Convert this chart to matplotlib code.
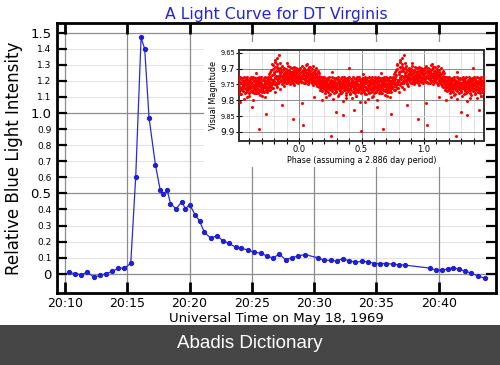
import matplotlib
matplotlib.use("Agg")
import matplotlib.pyplot as plt
from matplotlib.patches import Rectangle
from matplotlib.ticker import FixedLocator, FixedFormatter, MultipleLocator, NullFormatter
import numpy as np

# ---------------- main light curve (minutes after 20:00 UT) ----------------
times = [10.32, 10.80, 11.29, 11.80, 12.30, 12.79, 13.30, 13.78, 14.29, 14.77,
         15.28, 15.68, 16.11, 16.40, 16.75, 17.26, 17.64, 17.90, 18.20, 18.47,
         18.92, 19.38, 19.67, 20.00, 20.45, 20.80, 21.20, 21.70, 22.19, 22.67,
         23.16, 23.69, 24.17, 24.68, 25.14, 25.73, 26.21, 26.72, 27.20, 27.71,
         28.22, 28.70, 29.24, 30.28, 30.77, 31.33, 31.81, 32.29, 32.83, 33.31,
         33.82, 34.33, 34.84, 35.32, 35.80, 36.31, 36.80, 37.30, 39.34, 39.82,
         40.28, 40.73, 41.17, 41.65, 42.13, 42.61, 43.12, 43.74]
intensity = [0.010, 0.000, -0.005, 0.010, -0.020, -0.010, 0.000, 0.015, 0.035, 0.035,
             0.065, 0.605, 1.470, 1.398, 0.969, 0.678, 0.523, 0.494, 0.521, 0.437,
             0.404, 0.448, 0.404, 0.431, 0.367, 0.328, 0.257, 0.222, 0.236, 0.207,
             0.189, 0.166, 0.160, 0.147, 0.135, 0.129, 0.110, 0.098, 0.124, 0.087,
             0.101, 0.110, 0.120, 0.100, 0.085, 0.083, 0.081, 0.093, 0.081, 0.073,
             0.077, 0.075, 0.064, 0.064, 0.064, 0.060, 0.056, 0.054, 0.035, 0.021,
             0.025, 0.029, 0.039, 0.027, 0.017, 0.004, -0.012, -0.029]

x_ticks = [10, 15, 20, 25, 30, 35, 40]
x_tick_labels = ["20:10", "20:15", "20:20", "20:25", "20:30", "20:35", "20:40"]
y_major = [0.0, 0.5, 1.0, 1.5]
y_major_labels = ["0", "0.5", "1.0", "1.5"]
y_minor = [0.1, 0.2, 0.3, 0.4, 0.6, 0.7, 0.8, 0.9, 1.1, 1.2, 1.3, 1.4]
y_minor_labels = ["0.1", "0.2", "0.3", "0.4", "0.6", "0.7", "0.8", "0.9",
                  "1.1", "1.2", "1.3", "1.4"]

# ---------------- inset: phase-folded magnitudes (one cycle) ----------------
phase = [
 0.003, 0.007, 0.011, 0.014, 0.018, 0.022, 0.025, 0.029, 0.033, 0.036,
 0.040, 0.044, 0.047, 0.051, 0.055, 0.058, 0.062, 0.066, 0.069, 0.073,
 0.077, 0.080, 0.084, 0.088, 0.091, 0.095, 0.099, 0.102, 0.106, 0.110,
 0.113, 0.117, 0.121, 0.124, 0.128, 0.132, 0.135, 0.139, 0.143, 0.147,
 0.151, 0.155, 0.158, 0.162, 0.166, 0.169, 0.173, 0.177, 0.180, 0.184,
 0.188, 0.191, 0.195, 0.199,
 0.202, 0.206, 0.209, 0.213, 0.217, 0.220, 0.224, 0.228, 0.231, 0.235,
 0.239, 0.242, 0.246, 0.250, 0.253, 0.257, 0.261, 0.264, 0.268, 0.272,
 0.275, 0.279, 0.283, 0.286, 0.290, 0.294, 0.297, 0.301, 0.305, 0.308,
 0.312, 0.316, 0.319, 0.323, 0.327, 0.330, 0.334, 0.338, 0.341, 0.345,
 0.349, 0.352, 0.356, 0.360, 0.363, 0.367, 0.371, 0.374, 0.378, 0.382,
 0.385, 0.389, 0.393, 0.396, 0.400, 0.404, 0.407, 0.411, 0.415, 0.418,
 0.422, 0.426, 0.429, 0.433, 0.437, 0.440, 0.444, 0.448, 0.451, 0.455,
 0.459, 0.462, 0.466, 0.470, 0.473, 0.477, 0.481, 0.484, 0.488, 0.492,
 0.495, 0.499, 0.503, 0.506, 0.510, 0.514, 0.517, 0.521, 0.525, 0.528,
 0.532, 0.536, 0.539, 0.543, 0.547, 0.550, 0.554, 0.558, 0.561, 0.565,
 0.569, 0.572, 0.576, 0.580, 0.583, 0.587, 0.591, 0.594, 0.598, 0.602,
 0.605, 0.609, 0.613, 0.616, 0.620, 0.624, 0.627, 0.631, 0.635, 0.638,
 0.642, 0.646, 0.649, 0.653, 0.657, 0.660, 0.664, 0.668, 0.671, 0.675,
 0.679, 0.682, 0.686, 0.690, 0.693, 0.697, 0.701, 0.704, 0.708, 0.712,
 0.715, 0.719, 0.723, 0.726, 0.730, 0.734, 0.737, 0.741, 0.745, 0.748,
 0.752, 0.755, 0.759, 0.763, 0.766, 0.770, 0.774, 0.777, 0.781, 0.785,
 0.788, 0.792, 0.796, 0.799, 0.803, 0.807, 0.810, 0.814, 0.818, 0.821,
 0.825, 0.829, 0.832, 0.836, 0.840, 0.843, 0.847, 0.851, 0.854, 0.858,
 0.862, 0.865, 0.869, 0.873, 0.876, 0.880, 0.884, 0.887, 0.891, 0.895,
 0.898, 0.902, 0.906, 0.909, 0.913, 0.917, 0.920, 0.924, 0.928, 0.931,
 0.935, 0.939, 0.942, 0.946, 0.950, 0.953, 0.957, 0.961, 0.964, 0.968,
 0.972, 0.975, 0.979, 0.983, 0.986, 0.990, 0.993, 0.997,
 # outliers
 0.840, 0.822, 0.806, 0.849, 0.781, 0.675, 0.733, 0.861, 0.950, 0.027,
 0.020, 0.256, 0.299, 0.349, 0.496, 0.440, 0.528, 0.180, 0.620, 0.120]
magnitude = [
 9.728, 9.715, 9.734, 9.722, 9.741, 9.708, 9.726, 9.731, 9.717, 9.745,
 9.720, 9.712, 9.736, 9.724, 9.703, 9.729, 9.739, 9.718, 9.727, 9.748,
 9.714, 9.733, 9.721, 9.709, 9.737, 9.725, 9.742, 9.716, 9.730, 9.722,
 9.751, 9.711, 9.735, 9.727, 9.744, 9.719, 9.738, 9.729, 9.755, 9.733,
 9.741, 9.722, 9.748, 9.736, 9.757, 9.731, 9.745, 9.762, 9.739, 9.751,
 9.728, 9.758, 9.744, 9.766,
 9.749, 9.757, 9.741, 9.763, 9.752, 9.771, 9.745, 9.758, 9.737, 9.754,
 9.782, 9.748, 9.761, 9.743, 9.756, 9.768, 9.739, 9.752, 9.795, 9.747,
 9.759, 9.744, 9.764, 9.751, 9.733, 9.757, 9.772, 9.746, 9.755, 9.788,
 9.741, 9.760, 9.749, 9.766, 9.738, 9.753, 9.776, 9.745, 9.758, 9.742,
 9.801, 9.751, 9.762, 9.736, 9.748, 9.769, 9.755, 9.743, 9.784, 9.750,
 9.761, 9.739, 9.756, 9.697, 9.747, 9.765, 9.752, 9.778, 9.741, 9.757,
 9.746, 9.792, 9.754, 9.738, 9.763, 9.749, 9.771, 9.744, 9.758, 9.740,
 9.786, 9.753, 9.745, 9.767, 9.751, 9.737, 9.760, 9.748, 9.805, 9.756,
 9.742, 9.764, 9.750, 9.773, 9.746, 9.758, 9.739, 9.755, 9.781, 9.747,
 9.762, 9.744, 9.757, 9.768, 9.741, 9.753, 9.796, 9.749, 9.760, 9.736,
 9.752, 9.775, 9.745, 9.758, 9.742, 9.766, 9.750, 9.787, 9.747, 9.761,
 9.738, 9.754, 9.770, 9.743, 9.757, 9.748, 9.799, 9.752, 9.740, 9.764,
 9.749, 9.758, 9.735, 9.755, 9.777, 9.746, 9.760, 9.751, 9.742, 9.768,
 9.754, 9.739, 9.783, 9.748, 9.759, 9.745, 9.765, 9.752, 9.737, 9.771,
 9.749, 9.756, 9.741, 9.790, 9.753, 9.744, 9.762, 9.738, 9.757, 9.748,
 9.733, 9.759, 9.718, 9.746, 9.769, 9.727, 9.752, 9.704, 9.741, 9.762,
 9.689, 9.736, 9.749, 9.712, 9.775, 9.731, 9.678, 9.744, 9.722, 9.757,
 9.696, 9.738, 9.747, 9.706, 9.729, 9.764, 9.715, 9.740, 9.724, 9.701,
 9.735, 9.748, 9.719, 9.730, 9.756, 9.713, 9.727, 9.742, 9.708, 9.734,
 9.721, 9.744, 9.716, 9.729, 9.738, 9.706, 9.725, 9.748, 9.719, 9.732,
 9.711, 9.727, 9.741, 9.714, 9.730, 9.722, 9.752, 9.709, 9.735, 9.724,
 9.717, 9.743, 9.728, 9.712, 9.736, 9.720, 9.747, 9.725,
 # outliers
 9.656, 9.668, 9.673, 9.683, 9.684, 9.890, 9.844, 9.816, 9.859, 9.877,
 9.808, 9.914, 9.837, 9.848, 9.897, 9.832, 9.806, 9.800, 9.820, 9.790]

# second set of observations read from the same folded cycle: (phase, magnitude)
phase_mag_2 = [
 (0.001, 9.705), (0.005, 9.738), (0.009, 9.699), (0.013, 9.712), (0.016, 9.725),
 (0.020, 9.693), (0.024, 9.741), (0.027, 9.706), (0.031, 9.719), (0.035, 9.697),
 (0.038, 9.732), (0.042, 9.701), (0.046, 9.746), (0.049, 9.710), (0.053, 9.690),
 (0.057, 9.723), (0.060, 9.713), (0.064, 9.738), (0.068, 9.700), (0.071, 9.719),
 (0.075, 9.694), (0.079, 9.743), (0.082, 9.707), (0.086, 9.728), (0.090, 9.696),
 (0.093, 9.716), (0.097, 9.734), (0.101, 9.702), (0.104, 9.747), (0.108, 9.711),
 (0.112, 9.692), (0.115, 9.726), (0.119, 9.739), (0.123, 9.704), (0.126, 9.718),
 (0.130, 9.731), (0.134, 9.698), (0.137, 9.749), (0.141, 9.713), (0.145, 9.727),
 (0.149, 9.706), (0.153, 9.737), (0.156, 9.758), (0.160, 9.715), (0.164, 9.744),
 (0.167, 9.769), (0.171, 9.725), (0.175, 9.740), (0.178, 9.752), (0.182, 9.730),
 (0.186, 9.772), (0.189, 9.742), (0.193, 9.735), (0.197, 9.754), (0.200, 9.728),
 (0.204, 9.767), (0.208, 9.732), (0.211, 9.776), (0.215, 9.739), (0.219, 9.761),
 (0.222, 9.729), (0.226, 9.748), (0.230, 9.774), (0.233, 9.733), (0.237, 9.765),
 (0.241, 9.727), (0.244, 9.752), (0.248, 9.779), (0.252, 9.735), (0.255, 9.744),
 (0.259, 9.762), (0.263, 9.726), (0.266, 9.771), (0.270, 9.738), (0.274, 9.756),
 (0.277, 9.731), (0.281, 9.777), (0.285, 9.742), (0.288, 9.765), (0.292, 9.729),
 (0.296, 9.750), (0.299, 9.773), (0.303, 9.734), (0.307, 9.762), (0.310, 9.728),
 (0.314, 9.746), (0.318, 9.779), (0.321, 9.736), (0.325, 9.755), (0.329, 9.770),
 (0.332, 9.730), (0.336, 9.764), (0.340, 9.727), (0.343, 9.749), (0.347, 9.775),
 (0.351, 9.737), (0.354, 9.741), (0.358, 9.768), (0.362, 9.725), (0.365, 9.759),
 (0.369, 9.733), (0.373, 9.776), (0.376, 9.739), (0.380, 9.763), (0.384, 9.729),
 (0.387, 9.751), (0.391, 9.772), (0.395, 9.735), (0.398, 9.766), (0.402, 9.726),
 (0.406, 9.744), (0.409, 9.780), (0.413, 9.732), (0.417, 9.769), (0.420, 9.738),
 (0.424, 9.754), (0.428, 9.727), (0.431, 9.775), (0.435, 9.741), (0.439, 9.762),
 (0.442, 9.731), (0.446, 9.748), (0.450, 9.777), (0.453, 9.734), (0.457, 9.765),
 (0.461, 9.728), (0.464, 9.752), (0.468, 9.773), (0.472, 9.736), (0.475, 9.760),
 (0.479, 9.726), (0.483, 9.770), (0.486, 9.740), (0.490, 9.757), (0.494, 9.732),
 (0.497, 9.778), (0.501, 9.737), (0.505, 9.763), (0.508, 9.729), (0.512, 9.749),
 (0.516, 9.774), (0.519, 9.733), (0.523, 9.767), (0.527, 9.727), (0.530, 9.745),
 (0.534, 9.779), (0.538, 9.735), (0.541, 9.761), (0.545, 9.730), (0.549, 9.771),
 (0.552, 9.739), (0.556, 9.756), (0.560, 9.726), (0.563, 9.776), (0.567, 9.741),
 (0.571, 9.764), (0.574, 9.732), (0.578, 9.750), (0.582, 9.772), (0.585, 9.728),
 (0.589, 9.767), (0.593, 9.736), (0.596, 9.755), (0.600, 9.778), (0.604, 9.730),
 (0.607, 9.762), (0.611, 9.727), (0.615, 9.747), (0.618, 9.774), (0.622, 9.734),
 (0.626, 9.769), (0.629, 9.725), (0.633, 9.758), (0.637, 9.776), (0.640, 9.738),
 (0.644, 9.765), (0.648, 9.729), (0.651, 9.771), (0.655, 9.740), (0.659, 9.753),
 (0.662, 9.731), (0.666, 9.778), (0.670, 9.736), (0.673, 9.763), (0.677, 9.726),
 (0.681, 9.749), (0.684, 9.770), (0.688, 9.733), (0.692, 9.766), (0.695, 9.728),
 (0.699, 9.756), (0.703, 9.775), (0.706, 9.737), (0.710, 9.761), (0.714, 9.730),
 (0.717, 9.773), (0.721, 9.735), (0.725, 9.754), (0.728, 9.727), (0.732, 9.768),
 (0.736, 9.739), (0.739, 9.775), (0.743, 9.731), (0.747, 9.760), (0.750, 9.745),
 (0.754, 9.726), (0.757, 9.767), (0.761, 9.738), (0.765, 9.711), (0.768, 9.752),
 (0.772, 9.732), (0.776, 9.759), (0.779, 9.721), (0.783, 9.744), (0.787, 9.700),
 (0.790, 9.735), (0.794, 9.762), (0.798, 9.717), (0.801, 9.739), (0.805, 9.694),
 (0.809, 9.728), (0.812, 9.751), (0.816, 9.709), (0.820, 9.733), (0.823, 9.686),
 (0.827, 9.722), (0.831, 9.745), (0.834, 9.702), (0.838, 9.726), (0.842, 9.741),
 (0.845, 9.698), (0.849, 9.719), (0.853, 9.737), (0.856, 9.711), (0.860, 9.692),
 (0.864, 9.728), (0.867, 9.744), (0.871, 9.705), (0.875, 9.720), (0.878, 9.736),
 (0.882, 9.697), (0.886, 9.714), (0.889, 9.731), (0.893, 9.701), (0.897, 9.745),
 (0.900, 9.709), (0.904, 9.724), (0.908, 9.692), (0.911, 9.738), (0.915, 9.715),
 (0.919, 9.703), (0.922, 9.733), (0.926, 9.696), (0.930, 9.742), (0.933, 9.710),
 (0.937, 9.721), (0.941, 9.699), (0.944, 9.736), (0.948, 9.706), (0.952, 9.744),
 (0.955, 9.717), (0.959, 9.694), (0.963, 9.729), (0.966, 9.703), (0.970, 9.739),
 (0.973, 9.712), (0.977, 9.698), (0.981, 9.734), (0.984, 9.708), (0.988, 9.743),
 (0.992, 9.701), (0.995, 9.718), (0.999, 9.731),
 (0.215, 9.789), (0.372, 9.793), (0.455, 9.786), (0.583, 9.791), (0.702, 9.787),
 (0.262, 9.712), (0.512, 9.716), (0.655, 9.713), (0.905, 9.682), (0.062, 9.684)]
phase_shifts = [-1.0, 0.0, 1.0]

ins_y_major = [9.7, 9.8, 9.9]
ins_y_major_labels = ["9.7", "9.8", "9.9"]
ins_y_minor = [9.65, 9.75, 9.85]
ins_y_minor_labels = ["9.65", "9.75", "9.85"]
ins_x_major = [0.0, 0.5, 1.0]
ins_x_major_labels = ["0.0", "0.5", "1.0"]

# ---------------- figure ----------------
fig = plt.figure(figsize=(5.0, 3.65), dpi=100)
fig.patch.set_facecolor("white")

ax = fig.add_axes([0.114, 0.197, 0.878, 0.740])
ax.set_xlim(9.36, 44.6)
ax.set_ylim(-0.12, 1.56)

# manual grid (kept below the white inset box)
for yv in y_minor:
    ax.axhline(yv, color="#e2e2e2", lw=0.8, zorder=0.5)
for yv in y_major:
    ax.axhline(yv, color="#8c8c8c", lw=0.9, zorder=0.6)
for xv in x_ticks:
    ax.axvline(xv, color="#8c8c8c", lw=0.9, zorder=0.6)

ax.plot(times, intensity, color="#2a2ad8", lw=0.9, marker="o", ms=2.8,
        mec="#2020d0", mfc="#2020d0", zorder=3)

ax.xaxis.set_major_locator(FixedLocator(x_ticks))
ax.xaxis.set_major_formatter(FixedFormatter(x_tick_labels))
ax.yaxis.set_major_locator(FixedLocator(y_major))
ax.yaxis.set_major_formatter(FixedFormatter(y_major_labels))
ax.yaxis.set_minor_locator(FixedLocator(y_minor))
ax.yaxis.set_minor_formatter(FixedFormatter(y_minor_labels))

ax.tick_params(axis="x", which="major", direction="in", length=8, width=2,
               top=True, bottom=True, labelsize=9, pad=3, colors="black")
ax.tick_params(axis="y", which="major", direction="in", length=7, width=1.6,
               left=True, right=True, labelsize=9.5, pad=4)
ax.tick_params(axis="y", which="minor", direction="in", length=7, width=1.6,
               left=True, right=True, labelsize=6.5, pad=4)
for sp in ax.spines.values():
    sp.set_linewidth(2)
    sp.set_color("black")

ax.set_xlabel("Universal Time on May 18, 1969", fontsize=9.5, labelpad=1)
ax.set_ylabel("Relative Blue Light Intensity", fontsize=12, labelpad=5)
ax.set_title("A Light Curve for DT Virginis", fontsize=11.3, color="#2424d6", pad=3)

# white box behind the inset
box = Rectangle((0.408, 0.5425), 0.568, 0.342, transform=fig.transFigure,
                facecolor="white", edgecolor="none", zorder=1.0)
ax.add_patch(box)

# ---------------- inset ----------------
ins = fig.add_axes([0.4786, 0.6137, 0.489, 0.249])
ins.set_zorder(5)
ph = np.concatenate([np.asarray(phase), np.asarray([p for p, _ in phase_mag_2])])
mg = np.concatenate([np.asarray(magnitude), np.asarray([m for _, m in phase_mag_2])])
for s in phase_shifts:
    ins.plot(ph + s, mg, ls="none", marker="o", ms=2.2, mfc="#ff0000",
             mec="none", zorder=3)
ins.set_xlim(-0.48, 1.48)
ins.set_ylim(9.929, 9.6415)

ins.xaxis.set_major_locator(FixedLocator(ins_x_major))
ins.xaxis.set_major_formatter(FixedFormatter(ins_x_major_labels))
ins.xaxis.set_minor_locator(MultipleLocator(0.1))
ins.xaxis.set_minor_formatter(NullFormatter())
ins.yaxis.set_major_locator(FixedLocator(ins_y_major))
ins.yaxis.set_major_formatter(FixedFormatter(ins_y_major_labels))
ins.yaxis.set_minor_locator(FixedLocator(ins_y_minor))
ins.yaxis.set_minor_formatter(FixedFormatter(ins_y_minor_labels))

ins.tick_params(axis="x", which="both", direction="inout", length=4, width=0.8,
                labelsize=6, pad=1)
ins.tick_params(axis="y", which="major", direction="inout", length=4, width=0.8,
                labelsize=6.5, pad=1)
ins.tick_params(axis="y", which="minor", direction="inout", length=4, width=0.8,
                labelsize=4.8, pad=1)
ins.grid(True, which="major", color="#8c8c8c", lw=0.7)
ins.grid(True, which="minor", color="#dcdcdc", lw=0.6)
ins.set_axisbelow(True)
for sp in ins.spines.values():
    sp.set_linewidth(1.4)
    sp.set_color("#333333")
ins.set_xlabel("Phase (assuming a 2.886 day period)", fontsize=5.8, labelpad=1)
ins.set_ylabel("Visual Magnitude", fontsize=5.8, labelpad=2)

# ---------------- footer band ----------------
fig.patches.append(Rectangle((0, 0), 1, 40 / 365, transform=fig.transFigure,
                             facecolor="#464646", edgecolor="none", zorder=0))
fig.text(0.5, 21 / 365, "Abadis Dictionary", color="white", ha="center",
         va="center", fontsize=13.5, family="Liberation Sans")

fig.savefig("out.png", dpi=100)
